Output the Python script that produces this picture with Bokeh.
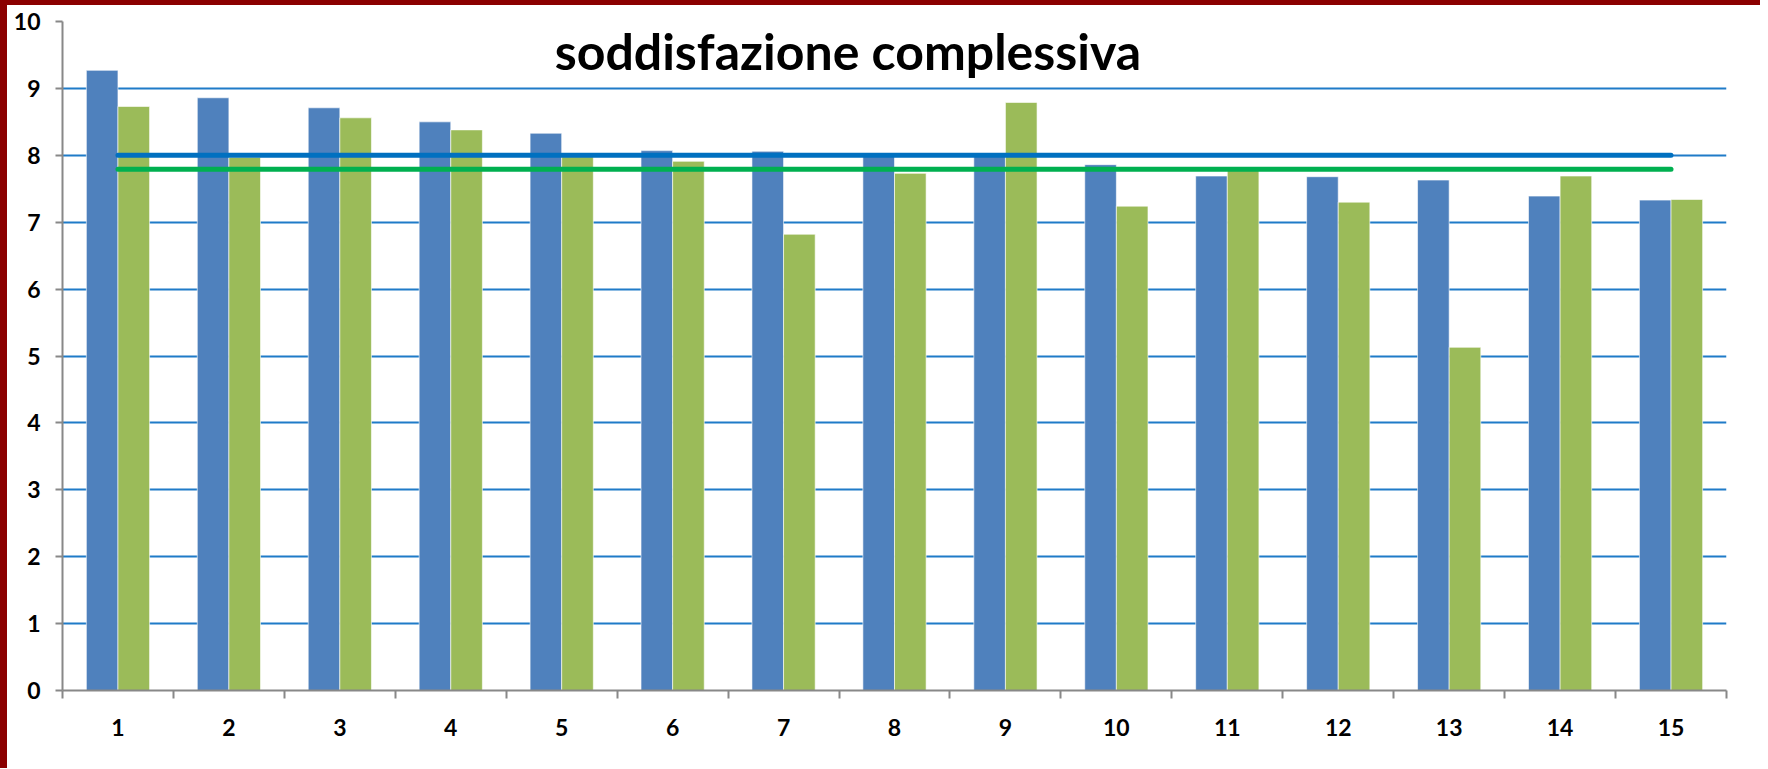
from bokeh.plotting import figure
from bokeh.models import FixedTicker, Label, ColumnDataSource, Spacer
from bokeh.layouts import column, row
from bokeh.embed import file_html
from bokeh.resources import INLINE

categories = list(range(1, 16))
serie_blu = [9.27, 8.86, 8.71, 8.50, 8.33, 8.07, 8.06, 8.02, 8.01, 7.86, 7.69, 7.68, 7.63, 7.39, 7.33]
serie_verde = [8.73, 7.97, 8.56, 8.38, 7.98, 7.91, 6.82, 7.73, 8.79, 7.24, 7.78, 7.30, 5.13, 7.69, 7.34]
media_blu = 8.0
media_verde = 7.79
title_text = "soddisfazione complessiva"
y_ticks = list(range(0, 11))

FONT = "Lato"
BLUE = "#4F81BD"
GREEN = "#9BBB59"
FRAME_RED = "#8B0000"

p = figure(width=1753, height=763, output_backend="svg", toolbar_location=None,
           x_range=(0.5, 15.5), y_range=(0, 10),
           min_border_left=55, min_border_right=34, min_border_top=16, min_border_bottom=78)
p.outline_line_color = None
p.background_fill_color = "white"
p.border_fill_color = "white"

bw = 0.285
src = ColumnDataSource(dict(
    xb=[c - bw / 2 for c in categories],
    xg=[c + bw / 2 for c in categories],
    b=serie_blu, g=serie_verde))
p.vbar(x="xb", top="b", bottom=0, width=bw, source=src, fill_color=BLUE,
       line_color="white", line_alpha=0.6, line_width=1)
p.vbar(x="xg", top="g", bottom=0, width=bw, source=src, fill_color=GREEN,
       line_color="white", line_alpha=0.6, line_width=1)

p.line(categories, [media_blu] * len(categories), line_color="#0070C0", line_width=5, line_cap="round")
p.line(categories, [media_verde] * len(categories), line_color="#00B050", line_width=5, line_cap="round")

# grid
p.xgrid.visible = False
p.ygrid.ticker = FixedTicker(ticks=y_ticks[1:])
p.ygrid.grid_line_color = "#1F7BC8"
p.ygrid.grid_line_width = 2

# axes
p.yaxis.ticker = FixedTicker(ticks=y_ticks)
p.xaxis.ticker = FixedTicker(ticks=categories, minor_ticks=[c - 0.5 for c in categories] + [15.5])
for ax in (p.xaxis[0], p.yaxis[0]):
    ax.axis_line_color = "#888888"
    ax.axis_line_width = 2
    ax.major_label_text_font = FONT
    ax.major_label_text_font_style = "bold"
    ax.major_label_text_font_size = "23px"
    ax.major_label_text_color = "black"
    ax.major_tick_line_color = "#888888"
    ax.major_tick_line_width = 2
    ax.major_tick_in = 0
    ax.minor_tick_in = 0
p.yaxis.major_tick_out = 7
p.yaxis.minor_tick_line_color = None
p.yaxis.major_label_standoff = 15
p.xaxis.major_tick_out = 0
p.xaxis.minor_tick_out = 8
p.xaxis.minor_tick_line_color = "#888888"
p.xaxis.minor_tick_line_width = 2
p.xaxis.major_label_standoff = 20

title = Label(x=7.58, y=9.56, text=title_text, text_font=FONT, text_font_style="bold",
              text_font_size="50px", text_color="black", text_align="center",
              text_baseline="middle")
p.add_layout(title)

# dark red slide frame (top and left edges)
top_band = Spacer(width=1760, height=5, styles={"background-color": FRAME_RED})
left_band = Spacer(width=7, height=763, styles={"background-color": FRAME_RED})
layout = column(top_band, row(left_band, p, spacing=0), spacing=0)

open("out.html", "w").write(file_html(layout, INLINE))
